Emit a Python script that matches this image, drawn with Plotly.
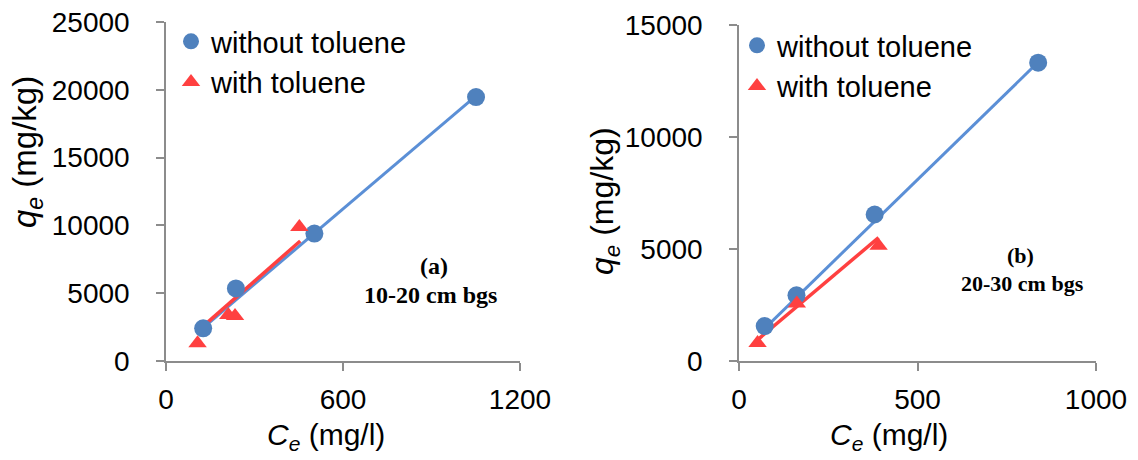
import plotly.graph_objects as go

W, H = 1138, 460

# Panel (a): 10-20 cm bgs
a_ce_without = [126, 237, 503, 1051]
a_qe_without = [2410, 5350, 9400, 19460]
a_ce_with = [107, 211, 234, 452]
a_qe_with = [1300, 3390, 3310, 9890]
a_fit_without_x = [126, 1051]
a_fit_without_y = [2450, 19560]
a_fit_with_x = [107, 455]
a_fit_with_y = [2200, 8850]

# Panel (b): 20-30 cm bgs
b_ce_without = [72, 161, 380, 838]
b_qe_without = [1560, 2935, 6540, 13316]
b_ce_with = [52, 162, 391]
b_qe_with = [800, 2565, 5140]
b_fit_without_x = [67, 838]
b_fit_without_y = [1380, 13340]
b_fit_with_x = [56, 391]
b_fit_with_y = [1000, 5510]

a_xticks = [0, 600, 1200]
a_yticks = [0, 5000, 10000, 15000, 20000, 25000]
b_xticks = [0, 500, 1000]
b_yticks = [0, 5000, 10000, 15000]

BLUE = "#4f81bd"
BLUE_LINE = "#5b8fd6"
RED = "#ff4040"
AXC = "#8c8c8c"
FONT = "Liberation Sans, Arial, sans-serif"
SERIF = "Liberation Serif, Times New Roman, serif"

fig = go.Figure()

def add_panel(xa, ya, legend, cw, qw, cwt, qwt, fx1, fy1, fx2, fy2):
    fig.add_trace(go.Scatter(x=fx1, y=fy1, mode="lines", line=dict(color=BLUE_LINE, width=3),
                             showlegend=False, xaxis=xa, yaxis=ya, hoverinfo="skip"))
    fig.add_trace(go.Scatter(x=fx2, y=fy2, mode="lines", line=dict(color=RED, width=3.5),
                             showlegend=False, xaxis=xa, yaxis=ya, hoverinfo="skip"))
    fig.add_trace(go.Scatter(x=cw, y=qw, mode="markers", name="without toluene",
                             marker=dict(symbol="circle", size=18, color=BLUE),
                             xaxis=xa, yaxis=ya, legend=legend))
    fig.add_trace(go.Scatter(x=cwt, y=qwt, mode="markers", name="with toluene",
                             marker=dict(symbol="triangle-up", size=16, color=RED),
                             xaxis=xa, yaxis=ya, legend=legend))

add_panel("x", "y", "legend", a_ce_without, a_qe_without, a_ce_with, a_qe_with,
          a_fit_without_x, a_fit_without_y, a_fit_with_x, a_fit_with_y)
add_panel("x2", "y2", "legend2", b_ce_without, b_qe_without, b_ce_with, b_qe_with,
          b_fit_without_x, b_fit_without_y, b_fit_with_x, b_fit_with_y)

axis_common = dict(showline=True, linecolor=AXC, linewidth=1.5, ticks="outside",
                   ticklen=8, tickwidth=1.5, tickcolor=AXC, showgrid=False, zeroline=False,
                   automargin=False,
                   tickfont=dict(family=FONT, size=28, color="#000000"))

fig.update_layout(
    width=W, height=H,
    margin=dict(l=0, r=0, t=0, b=0, autoexpand=False),
    paper_bgcolor="white", plot_bgcolor="white",
    font=dict(family=FONT, color="#000000"),
    xaxis=dict(domain=[166 / W, 520 / W], range=[0, 1200], tickvals=a_xticks,
               ticktext=[str(v) for v in a_xticks],
               anchor="y", ticklabelstandoff=5, **axis_common),
    yaxis=dict(domain=[1 - 361 / H, 1 - 22 / H], range=[0, 25000], tickvals=a_yticks,
               ticktext=[str(v) for v in a_yticks],
               anchor="x", ticklabelstandoff=21, **axis_common),
    xaxis2=dict(domain=[739 / W, 1096 / W], range=[0, 1000], tickvals=b_xticks,
                ticktext=[str(v) for v in b_xticks],
                anchor="y2", ticklabelstandoff=5, **axis_common),
    yaxis2=dict(domain=[1 - 361 / H, 1 - 25 / H], range=[0, 15000], tickvals=b_yticks,
                ticktext=[str(v) for v in b_yticks],
                anchor="x2", ticklabelstandoff=21, **axis_common),
    legend=dict(x=171 / W, y=1 - 16 / H, xanchor="left", yanchor="top",
                font=dict(family=FONT, size=29, color="#000000"),
                bgcolor="rgba(0,0,0,0)", borderwidth=0, tracegroupgap=0),
    legend2=dict(x=737 / W, y=1 - 20 / H, xanchor="left", yanchor="top",
                 font=dict(family=FONT, size=29, color="#000000"),
                 bgcolor="rgba(0,0,0,0)", borderwidth=0, tracegroupgap=0),
    showlegend=True,
)

ann = []
def title(x, y, text, size, angle=0):
    ann.append(dict(x=x / W, y=1 - y / H, xref="paper", yref="paper", text=text,
                    showarrow=False, textangle=angle, xanchor="center", yanchor="middle",
                    font=dict(family=FONT, size=size, color="#000000")))

title(326, 436, "<i>C<sub>e</sub></i> (mg/l)", 30)
title(889, 436, "<i>C<sub>e</sub></i> (mg/l)", 30)
title(27, 152, "<i>q<sub>e</sub></i> (mg/kg)", 33, -90)
title(604, 201, "<i>q<sub>e</sub></i> (mg/kg)", 32, -90)

def label(x, y, text, size):
    ann.append(dict(x=x / W, y=1 - y / H, xref="paper", yref="paper", text=text,
                    showarrow=False, xanchor="center", yanchor="middle",
                    font=dict(family=SERIF, size=size, color="#000000")))

label(434, 266, "<b>(a)</b>", 24)
label(430, 295, "<b>10-20 cm bgs</b>", 24)
label(1020, 255, "<b>(b)</b>", 22)
label(1022, 283, "<b>20-30 cm bgs</b>", 22)

fig.update_layout(annotations=ann)

fig.write_html("out.html")
